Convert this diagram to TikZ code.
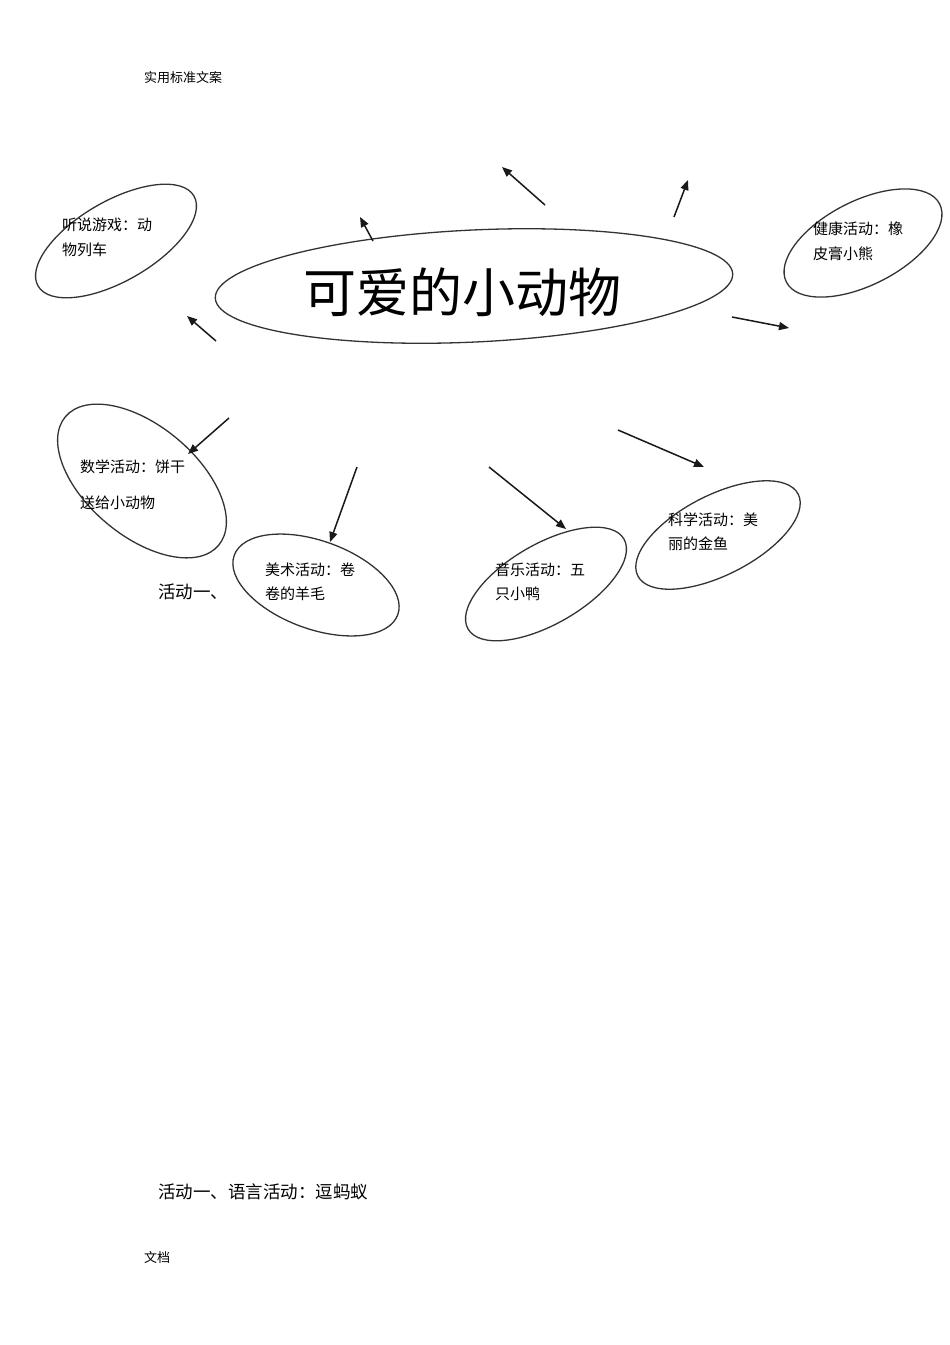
\documentclass[tikz,border=0pt]{standalone}
\usepackage{fontspec}
\setmainfont{Noto Sans CJK SC}
\usetikzlibrary{shapes.geometric,arrows.meta}
\tikzset{
  bub/.style={draw=black!80, line width=1.3pt, ellipse, inner sep=0pt, outer sep=0pt},
  arr/.style={draw=black!90, line width=1.5pt, -{Triangle[length=10pt,width=8pt]}},
  lbl/.style={anchor=west, inner sep=0pt, font=\fontsize{15}{15}\selectfont},
  big/.style={anchor=west, inner sep=0pt, font=\fontsize{17.5}{17.5}\selectfont},
  small/.style={anchor=west, inner sep=0pt, font=\fontsize{13}{13}\selectfont}
}
\begin{document}
\begin{tikzpicture}[x=1pt,y=-1pt]
\useasboundingbox[fill=white] (0,0) rectangle (950,1345);

% header / footer
\node[small] (hdr) at (144,78) {实用标准文案};
\node[small] (ftr) at (144,1257) {文档};

% central ellipse
\node[bub, minimum width=518pt, minimum height=112pt, rotate=2.7] (main) at (474,286) {};
\node[inner sep=0pt, font=\fontsize{53}{53}\selectfont] (title) at (462,292) {可爱的小动物};

% activity ellipses
\node[bub, minimum width=180pt, minimum height=80pt, rotate=30] (e1) at (116,241) {};
\node[bub, minimum width=172pt, minimum height=84pt, rotate=27] (e2) at (863,243) {};
\node[bub, minimum width=200pt, minimum height=110pt, rotate=-40] (e3) at (142,481) {};
\node[bub, minimum width=174pt, minimum height=88pt, rotate=-20] (e4) at (316,585) {};
\node[bub, minimum width=180pt, minimum height=80pt, rotate=30] (e5) at (546,584) {};
\node[bub, minimum width=180pt, minimum height=80pt, rotate=27] (e6) at (718,535) {};

% labels
\node[lbl] (l1a) at (62,225) {听说游戏：动};
\node[lbl] (l1b) at (62,250) {物列车};
\node[lbl] (l2a) at (813,229) {健康活动：橡};
\node[lbl] (l2b) at (813,254) {皮膏小熊};
\node[lbl] (l3a) at (80,467) {数学活动：饼干};
\node[lbl] (l3b) at (80,503) {送给小动物};
\node[lbl] (l4a) at (265,570) {美术活动：卷};
\node[lbl] (l4b) at (265,594) {卷的羊毛};
\node[lbl] (l5a) at (495,570) {音乐活动：五};
\node[lbl] (l5b) at (495,594) {只小鸭};
\node[lbl] (l6a) at (668,520) {科学活动：美};
\node[lbl] (l6b) at (668,544) {丽的金鱼};
\node[big] (act) at (158,592) {活动一、};
\node[big] (act2) at (158,1192) {活动一、语言活动：逗蚂蚁};

% arrow end points
\coordinate (a1s) at (373,241); \coordinate (a1t) at (360,217);
\coordinate (a2s) at (545,205); \coordinate (a2t) at (502,167);
\coordinate (a3s) at (674,217); \coordinate (a3t) at (688,180);
\coordinate (a4s) at (216,341); \coordinate (a4t) at (187,316);
\coordinate (a5s) at (732,317); \coordinate (a5t) at (789,328);
\coordinate (a6s) at (229,418); \coordinate (a6t) at (188,454);
\coordinate (a7s) at (357,467); \coordinate (a7t) at (330,542);
\coordinate (a8s) at (489,467); \coordinate (a8t) at (566,529);
\coordinate (a9s) at (618,430); \coordinate (a9t) at (704,467);

\draw[arr] (a1s) -- (a1t);
\draw[arr] (a2s) -- (a2t);
\draw[arr] (a3s) -- (a3t);
\draw[arr] (a4s) -- (a4t);
\draw[arr] (a5s) -- (a5t);
\draw[arr] (a6s) -- (a6t);
\draw[arr] (a7s) -- (a7t);
\draw[arr] (a8s) -- (a8t);
\draw[arr] (a9s) -- (a9t);
\end{tikzpicture}
\end{document}
